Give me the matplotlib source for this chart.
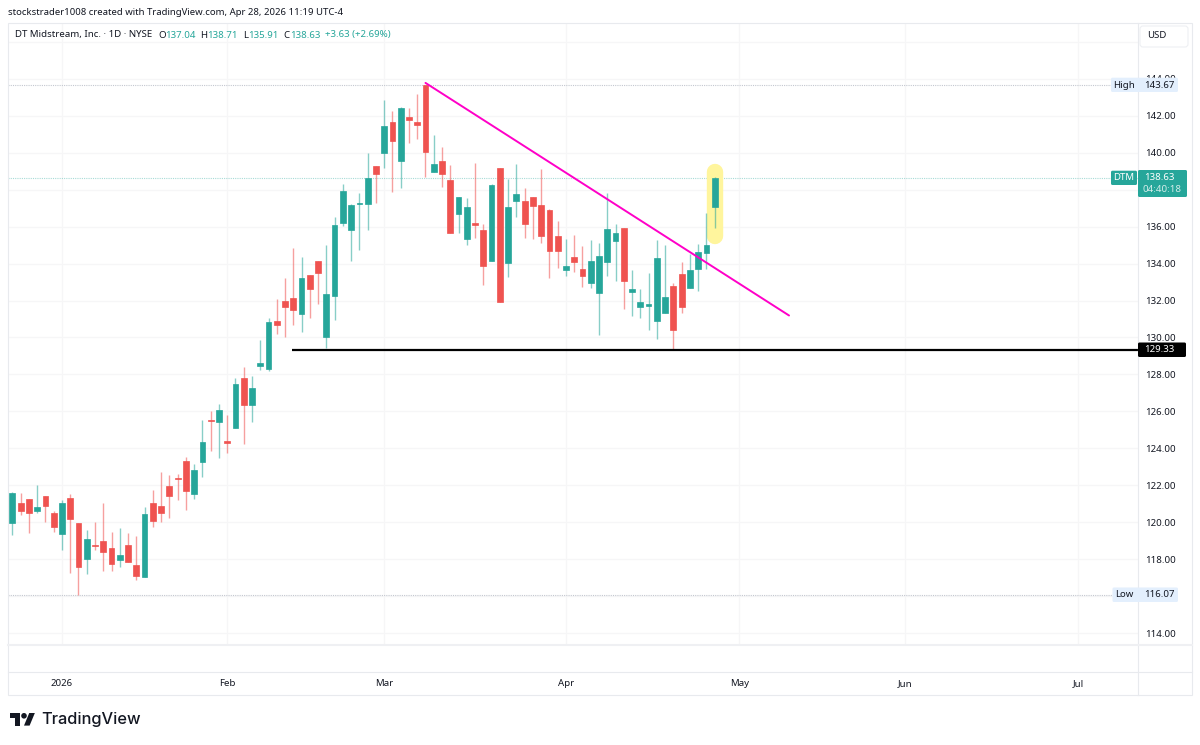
import matplotlib
matplotlib.use("Agg")
import matplotlib.pyplot as plt
from matplotlib.patches import Circle, FancyBboxPatch, Polygon, Rectangle

plt.rcParams["font.family"] = ["Noto Sans", "DejaVu Sans"]

# daily candles
opens = [119.94, 121.02, 121.24, 120.60, 121.40, 120.50, 119.38, 121.31, 119.94, 118.02,
         118.75, 119.00, 118.58, 117.95, 118.76, 117.68, 117.01, 121.04, 120.87, 121.96,
         122.37, 123.33, 121.51, 123.27, 125.53, 125.40, 124.41, 125.11, 127.79, 126.36,
         128.45, 128.29, 130.89, 131.99, 132.13, 131.27, 133.40, 134.12, 130.04, 132.26,
         136.20, 135.80, 137.24, 137.22, 139.26, 139.99, 141.66, 139.54, 141.92, 141.65,
         143.67, 138.94, 139.53, 138.52, 136.70, 135.33, 136.18, 135.82, 134.14, 139.17,
         134.01, 137.41, 137.39, 137.60, 137.15, 136.92, 135.49, 133.67, 134.36, 133.70,
         132.97, 132.42, 134.07, 135.20, 135.91, 132.44, 131.65, 131.72, 130.89, 131.34,
         132.79, 133.45, 132.69, 133.70, 134.57, 137.04]
highs = [121.65, 121.60, 121.24, 122.01, 121.42, 120.62, 121.18, 121.53, 119.94, 119.58,
         120.01, 121.04, 119.49, 119.67, 119.41, 119.27, 120.84, 121.72, 122.73, 122.55,
         122.59, 123.51, 123.15, 125.53, 126.02, 126.40, 125.80, 127.82, 128.40, 127.93,
         129.86, 131.05, 132.09, 133.20, 134.82, 134.34, 133.40, 134.12, 135.00, 136.54,
         138.33, 137.20, 137.84, 139.97, 139.26, 142.86, 142.26, 142.46, 142.42, 143.16,
         143.67, 140.98, 140.33, 139.34, 137.62, 137.53, 139.44, 136.14, 138.31, 139.19,
         138.58, 139.37, 138.07, 137.60, 139.12, 136.94, 136.30, 135.33, 135.55, 134.93,
         135.27, 135.11, 137.80, 136.14, 135.91, 133.65, 132.60, 133.47, 135.27, 134.99,
         132.95, 134.07, 134.52, 135.06, 136.75, 138.71]
lows = [119.31, 120.41, 119.43, 120.52, 120.01, 119.49, 118.51, 117.27, 116.07, 117.18,
        118.49, 117.36, 117.37, 117.59, 117.83, 116.89, 117.01, 119.74, 120.03, 120.24,
        121.22, 120.68, 121.26, 122.46, 123.87, 123.47, 123.73, 125.11, 124.25, 125.44,
        128.22, 128.20, 130.19, 130.04, 130.67, 130.28, 131.07, 131.81, 129.41, 130.96,
        136.03, 134.14, 134.73, 135.84, 137.26, 139.17, 137.86, 138.07, 140.55, 140.73,
        138.69, 138.94, 138.16, 135.65, 135.67, 135.00, 135.40, 132.86, 134.14, 131.94,
        133.29, 136.54, 135.40, 135.35, 135.13, 133.24, 133.78, 133.33, 133.56, 132.75,
        132.68, 130.13, 133.34, 133.05, 131.56, 131.18, 131.07, 130.40, 129.92, 131.34,
        129.37, 131.32, 132.69, 132.53, 133.69, 135.91]
closes = [121.56, 120.59, 120.50, 120.84, 120.86, 119.72, 121.02, 120.15, 117.59, 119.09,
          118.69, 118.37, 117.72, 118.22, 117.83, 117.07, 120.46, 120.05, 120.50, 121.44,
          122.32, 121.69, 122.84, 124.32, 125.48, 126.05, 124.30, 127.46, 126.36, 127.24,
          128.60, 130.85, 130.66, 131.65, 131.50, 133.22, 132.64, 133.49, 132.35, 136.09,
          137.91, 137.19, 137.28, 138.65, 138.85, 141.43, 140.64, 142.42, 141.77, 141.52,
          140.04, 139.37, 138.85, 135.65, 137.59, 137.06, 136.07, 133.87, 138.27, 131.94,
          137.04, 137.78, 136.16, 137.12, 135.47, 134.70, 134.66, 133.89, 134.07, 133.34,
          134.12, 134.41, 135.85, 135.67, 133.07, 132.62, 131.90, 131.79, 134.28, 132.17,
          130.42, 131.65, 133.63, 134.64, 135.02, 138.63]

# 116 and 138 sit behind the Low and DTM tags, so only their grid lines show
price_ticks = [114, 118, 120, 122, 124, 126, 128, 130, 132, 134, 136, 140, 142, 144]
grid_only_ticks = [116, 138, 146]
month_labels = ["2026", "Feb", "Mar", "Apr", "May", "Jun", "Jul"]
month_bars = [6, 26, 45, 67, 88, 108, 129]

LAST = 138.63
HIGH = 143.67
LOW = 116.07
SUPPORT = 129.33
trend_x = [50.0, 94.0]
trend_y = [143.78, 131.19]
highlight_y = [138.95, 135.49]

GREEN = "#26a69a"
RED = "#ef5350"
INK = "#131722"
FRAME = "#e8eaee"
GRID = "#f6f6f7"
BLUE_BOX = "#e3effd"
FONT = 6.95

W, H = 1200, 745
fig = plt.figure(figsize=(W / 100, H / 100), dpi=100, facecolor="white")

# main pane, x in bar numbers and y in dollars
left, right, top, bottom = 8, 1137.7, 22.5, 644.5
ax = fig.add_axes([left / W, 1 - bottom / H, (right - left) / W, (bottom - top) / H])
ax.set_xlim(-0.53, 136.2)
ax.set_ylim(113.38, 147.05)
for s in ax.spines.values():
    s.set_visible(False)

ax.yaxis.tick_right()
ax.set_yticks(price_ticks + grid_only_ticks,
              [f"{p:.2f}" for p in price_ticks] + [""] * len(grid_only_ticks))
ax.set_xticks(month_bars, month_labels)
ax.tick_params(axis="y", length=0, pad=5.3, labelsize=FONT, labelcolor=INK)
ax.tick_params(axis="x", length=0, pad=25, labelsize=FONT, labelcolor=INK)
ax.grid(True, color=GRID, linewidth=0.9)
ax.set_axisbelow(True)

# high, low and last price lines
ax.axhline(HIGH, color="#c4c8d0", linewidth=0.8, linestyle=(0, (1, 1)), zorder=1)
ax.axhline(LOW, color="#c4c8d0", linewidth=0.8, linestyle=(0, (1, 1)), zorder=1)
ax.axhline(LAST, color=GREEN, alpha=0.4, linewidth=0.8, linestyle=(0, (1, 1)), zorder=1)

# highlighter stroke goes under the candles
ax.plot([85, 85], highlight_y, color="#fff59d", linewidth=11.8, solid_capstyle="round", zorder=1.5)

# candles
bars = range(len(opens))
colors = [GREEN if c >= o else RED for o, c in zip(opens, closes)]
ax.vlines(bars, lows, highs, colors=colors, linewidth=1.0, alpha=0.55, zorder=2)
ax.bar(bars, [c - o for o, c in zip(opens, closes)], bottom=opens, width=0.7, color=colors,
       edgecolor=colors, linewidth=0.5, zorder=3)

# drawings on top of the candles
ax.plot(trend_x, trend_y, color="#ff00c8", linewidth=1.4, solid_capstyle="round", zorder=4)
ax.plot([33.85, 136.2], [SUPPORT, SUPPORT], color="black", linewidth=1.6, solid_capstyle="butt", zorder=4)

# frame, labels and footer on a pixel overlay
ov = fig.add_axes([0, 0, 1, 1], facecolor="none")
ov.set_xlim(0, W)
ov.set_ylim(H, 0)
ov.axis("off")

ov.add_patch(Rectangle((8, 22.5), 1183.7, 672.5, fill=False, edgecolor=FRAME, linewidth=0.8))
ov.plot([1137.7, 1137.7], [22.5, 695], color=FRAME, linewidth=0.8)
ov.plot([8, 1191.7], [645, 645], color="#eff0f3", linewidth=1.5)
ov.plot([8, 1191.7], [672, 672], color=FRAME, linewidth=0.8)


def box(x0, y0, x1, y1, color):
    ov.add_patch(FancyBboxPatch((x0 + 1, y0 + 1), x1 - x0 - 2, y1 - y0 - 2, boxstyle="round,pad=1,rounding_size=1.5",
                                facecolor=color, edgecolor="none", zorder=6))


def label(x, y, s, color=INK, ha="center", size=FONT, **kw):
    ov.text(x, y, s, color=color, ha=ha, va="center", fontsize=size, zorder=7, **kw)


# top texts
label(8, 12.5, "stockstrader1008 created with TradingView.com, Apr 28, 2026 11:19 UTC-4", ha="left", size=6.9)
label(15, 35, "DT Midstream, Inc. · 1D · NYSE", ha="left")
for x, s in [(158, "O"), (200.5, "H"), (243, "L"), (283, "C")]:
    label(x, 35, s, ha="left")
for x, s in [(165, "137.04"), (207, "138.71"), (248.5, "135.91"), (290, "138.63"), (325, "+3.63 (+2.69%)")]:
    label(x, 35, s, color=GREEN, ha="left")

# USD button
ov.add_patch(FancyBboxPatch((1142, 28), 44, 17, boxstyle="round,pad=2,rounding_size=3",
                            facecolor="white", edgecolor="#eef0f3", linewidth=0.8, zorder=6))
label(1157, 36, "USD")

# price tags
box(1111, 77.7, 1178, 92, BLUE_BOX)
label(1124, 85, "High")
label(1159.5, 85, f"{HIGH:.2f}")
box(1112.5, 587.5, 1178, 602, BLUE_BOX)
label(1124, 594.7, "Low")
label(1159.5, 594.7, f"{LOW:.2f}")
box(1111, 170.7, 1137, 185, GREEN)
label(1124, 178, "DTM", color="white")
box(1138, 170, 1187, 197, GREEN)
label(1159.5, 178, f"{LAST:.2f}", color="white")
label(1162, 190, "04:40:18", color="#d4edea")
box(1138, 342.5, 1186, 357, "black")
label(1159.5, 349.8, f"{SUPPORT:.2f}", color="white", fontweight="bold")

# TradingView logo
s = 0.7
ox, oy = 10, 710.2
ov.add_patch(Polygon([(ox + s * a, oy + s * b) for a, b in
                      [(14, 22), (7, 22), (7, 11), (0, 11), (0, 4), (14, 4)]], facecolor="#131722", edgecolor="none"))
ov.add_patch(Polygon([(ox + s * a, oy + s * b) for a, b in
                      [(28, 22), (20, 22), (27.5, 4), (35.5, 4)]], facecolor="#131722", edgecolor="none"))
ov.add_patch(Circle((ox + s * 20, oy + s * 8), s * 4, facecolor="#131722", edgecolor="none"))
label(41, 719.5, "TradingView", ha="left", size=11.8, fontweight="medium", family="Inter")

fig.savefig("out.png", dpi=100)
